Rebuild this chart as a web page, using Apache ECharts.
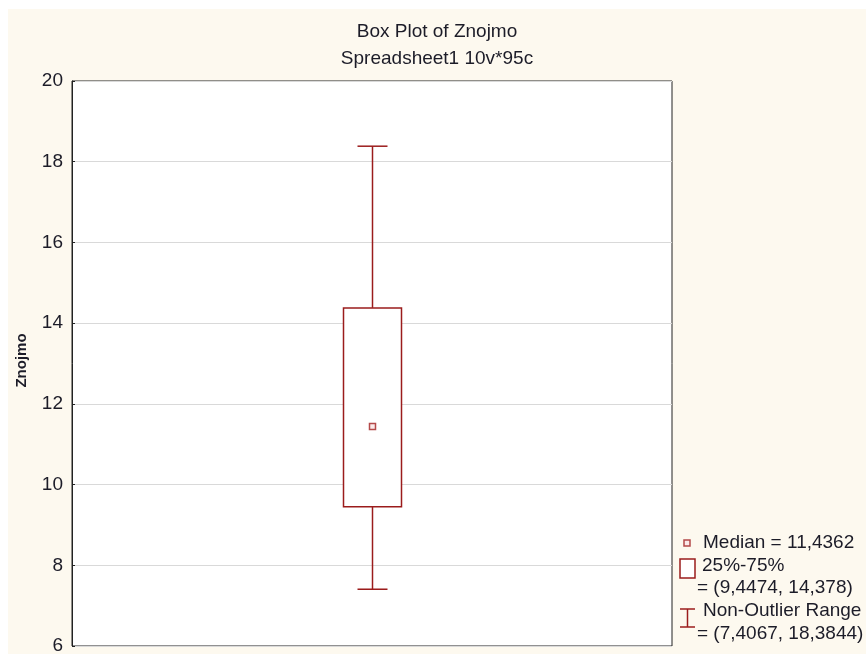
<!DOCTYPE html>
<html>
<head>
<meta charset="utf-8">
<script src="https://cdn.jsdelivr.net/npm/echarts@6/dist/echarts.min.js"></script>
<style>
  html, body { margin: 0; padding: 0; background: #fff; }
  #chart { position: absolute; left: 8px; top: 9px; width: 858px; height: 645px; }
</style>
</head>
<body>
<div id="chart"></div>
<script>
// data
var categories = ['Znojmo'];
var whiskerLow = [7.4067];
var quartile1 = [9.4474];
var medians = [11.4362];
var quartile3 = [14.378];
var whiskerHigh = [18.3844];
var yTicks = [6, 8, 10, 12, 14, 16, 18, 20];

var FONT = '"Liberation Sans", Arial, sans-serif';
var RED = '#9b1c1c';
var TXT = '#1c1c28';

function fmt(v) { return String(v).replace('.', ','); }

var boxData = categories.map(function (c, i) {
  return [i, whiskerLow[i], quartile1[i], medians[i], quartile3[i], whiskerHigh[i]];
});

function legendText(x, y, s) {
  return { type: 'text', x: x, y: y,
    style: { text: s, font: '19px ' + FONT, fill: TXT, verticalAlign: 'middle', align: 'left' } };
}

var chart = echarts.init(document.getElementById('chart'));
var option = {
  backgroundColor: '#fdf9ef',
  animation: false,
  title: {
    text: 'Box Plot of Znojmo',
    subtext: 'Spreadsheet1 10v*95c',
    left: 'center',
    top: 8,
    itemGap: 8,
    textStyle: { fontFamily: FONT, fontSize: 19, fontWeight: 'normal', color: TXT },
    subtextStyle: { fontFamily: FONT, fontSize: 19, color: TXT }
  },
  grid: { left: 64, top: 72, right: 194, bottom: 8, outerBoundsMode: 'none', containLabel: false,
    show: true, borderColor: '#222', borderWidth: 1, backgroundColor: '#fff' },
  xAxis: {
    type: 'category',
    data: categories,
    axisLine: { show: false },
    axisTick: { show: false },
    axisLabel: { show: false },
    splitLine: { show: false }
  },
  yAxis: {
    type: 'value',
    min: yTicks[0],
    max: yTicks[yTicks.length - 1],
    interval: 2,
    name: 'Znojmo',
    nameLocation: 'middle',
    nameGap: 43,
    nameTextStyle: { fontFamily: FONT, fontSize: 15, fontWeight: 'bold', color: TXT, padding: [0, 0, 0, 6] },
    axisLine: { show: true, lineStyle: { color: '#222', width: 1 } },
    axisTick: { show: true, inside: true, length: 3, lineStyle: { color: '#222' } },
    axisLabel: { fontFamily: FONT, fontSize: 19, color: TXT, margin: 9 },
    splitLine: { show: true, lineStyle: { color: '#d9d9d9', width: 1 } }
  },
  series: [{
    type: 'custom',
    data: boxData,
    encode: { x: 0, y: [1, 2, 3, 4, 5] },
    renderItem: function (params, api) {
      var xi = api.value(0);
      var pLow = api.coord([xi, api.value(1)]);
      var pQ1 = api.coord([xi, api.value(2)]);
      var pMed = api.coord([xi, api.value(3)]);
      var pQ3 = api.coord([xi, api.value(4)]);
      var pHigh = api.coord([xi, api.value(5)]);
      var cx = Math.round(pLow[0]) + 0.5;
      var boxHalf = 29, capHalf = 15;
      var line = { stroke: RED, lineWidth: 1.5 };
      return {
        type: 'group',
        children: [
          { type: 'line', shape: { x1: cx, y1: pHigh[1], x2: cx, y2: pQ3[1] }, style: line },
          { type: 'line', shape: { x1: cx, y1: pQ1[1], x2: cx, y2: pLow[1] }, style: line },
          { type: 'line', shape: { x1: cx - capHalf, y1: pHigh[1], x2: cx + capHalf, y2: pHigh[1] }, style: line },
          { type: 'line', shape: { x1: cx - capHalf, y1: pLow[1], x2: cx + capHalf, y2: pLow[1] }, style: line },
          { type: 'rect', shape: { x: cx - boxHalf, y: pQ3[1], width: boxHalf * 2, height: pQ1[1] - pQ3[1] },
            style: { fill: '#fff', stroke: RED, lineWidth: 1.5 } },
          { type: 'rect', shape: { x: cx - 3, y: pMed[1] - 3, width: 6, height: 6 },
            style: { fill: '#fbeaea', stroke: '#b44a4a', lineWidth: 1.5 } }
        ]
      };
    }
  }],
  graphic: [
    { type: 'rect', x: 676, y: 531, shape: { width: 6, height: 6 },
      style: { fill: '#fbeaea', stroke: '#b44a4a', lineWidth: 1.5 } },
    legendText(695, 534, 'Median = ' + fmt(medians[0])),
    { type: 'rect', x: 672, y: 550, shape: { width: 15, height: 19 },
      style: { fill: '#fff', stroke: RED, lineWidth: 1.5 } },
    legendText(694, 557, '25%-75%'),
    legendText(689, 579, '= (' + fmt(quartile1[0]) + ', ' + fmt(quartile3[0]) + ')'),
    { type: 'group', x: 672, y: 600, children: [
      { type: 'line', shape: { x1: 0, y1: 0, x2: 15, y2: 0 }, style: { stroke: RED, lineWidth: 1.5 } },
      { type: 'line', shape: { x1: 7.5, y1: 0, x2: 7.5, y2: 18 }, style: { stroke: RED, lineWidth: 1.5 } },
      { type: 'line', shape: { x1: 0, y1: 18, x2: 15, y2: 18 }, style: { stroke: RED, lineWidth: 1.5 } }
    ] },
    legendText(695, 602, 'Non-Outlier Range'),
    legendText(689, 625, '= (' + fmt(whiskerLow[0]) + ', ' + fmt(whiskerHigh[0]) + ')')
  ]
};
chart.setOption(option);
</script>
</body>
</html>
